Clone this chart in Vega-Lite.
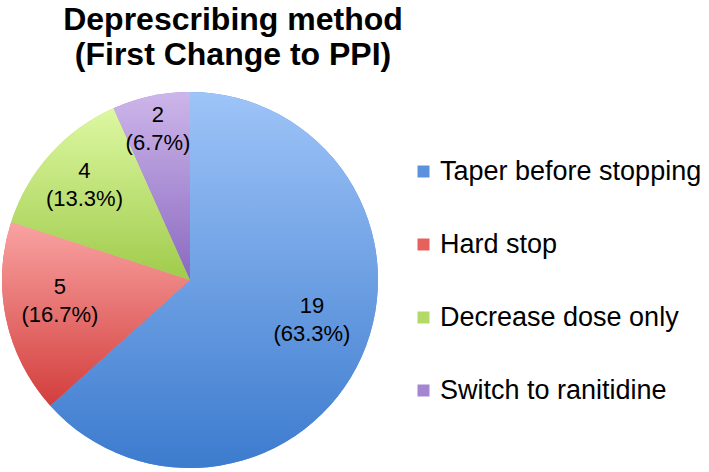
{
  "$schema": "https://vega.github.io/schema/vega-lite/v6.json",
  "width": 376,
  "height": 376,
  "padding": {"left": 2, "top": 4, "right": 0, "bottom": 0},
  "background": "white",
  "title": {
    "text": ["Deprescribing method", " (First Change to PPI)"],
    "font": "Liberation Sans",
    "fontSize": 32,
    "fontWeight": "bold",
    "lineHeight": 35,
    "color": "black",
    "anchor": "middle",
    "dx": 43,
    "offset": 20
  },
  "data": {
    "values": [
      {"method": "Taper before stopping", "count": 19, "pct": "(63.3%)", "order": 1},
      {"method": "Hard stop", "count": 5, "pct": "(16.7%)", "order": 2},
      {"method": "Decrease dose only", "count": 4, "pct": "(13.3%)", "order": 3},
      {"method": "Switch to ranitidine", "count": 2, "pct": "(6.7%)", "order": 4}
    ]
  },
  "encoding": {
    "theta": {"field": "count", "type": "quantitative", "stack": true},
    "order": {"field": "order", "type": "quantitative", "sort": "ascending"}
  },
  "layer": [
    {
      "mark": {"type": "arc", "stroke": null},
      "encoding": {
        "color": {
          "field": "method",
          "type": "nominal",
          "scale": {
            "domain": ["Taper before stopping", "Hard stop", "Decrease dose only", "Switch to ranitidine"],
            "range": ["#5B92DE", "#E6605E", "#B3D968", "#A485D2"]
          },
          "legend": {
            "title": null,
            "orient": "none",
            "legendX": 408,
            "legendY": 66,
            "symbolType": "square",
            "symbolSize": 144,
            "symbolStrokeWidth": 0,
            "labelFont": "Liberation Sans",
            "labelFontSize": 27,
            "labelColor": "black",
            "labelOffset": 3,
            "rowPadding": 45,
            "labelLimit": 400
          }
        }
      }
    },
    {
      "mark": {"type": "arc", "stroke": null},
      "encoding": {
        "color": {
          "condition": [
            {"test": "datum.order == 1", "value": {"gradient": "linear", "x1": 0, "y1": 0, "x2": 0, "y2": 1, "stops": [{"offset": 0, "color": "#9EC4F8"}, {"offset": 1, "color": "#3C7BCE"}]}},
            {"test": "datum.order == 2", "value": {"gradient": "linear", "x1": 0, "y1": 0, "x2": 0, "y2": 1, "stops": [{"offset": 0, "color": "#F9A3A2"}, {"offset": 1, "color": "#D23E3C"}]}},
            {"test": "datum.order == 3", "value": {"gradient": "linear", "x1": 0, "y1": 0, "x2": 0, "y2": 1, "stops": [{"offset": 0, "color": "#DDF8A2"}, {"offset": 1, "color": "#A0CB4C"}]}}
          ],
          "value": {"gradient": "linear", "x1": 0, "y1": 0, "x2": 0, "y2": 1, "stops": [{"offset": 0, "color": "#CDB6EA"}, {"offset": 1, "color": "#8B69C0"}]}
        }
      }
    },
    {
      "mark": {
        "type": "text",
        "font": "Liberation Sans",
        "fontSize": 22,
        "color": "black",
        "dx": {"expr": "datum.order == 1 ? 5 : 0"},
        "dy": {"expr": "(datum.order == 1 ? -12 : datum.order == 2 ? -7 : 0) - 14"},
        "radius": {"expr": "datum.order == 4 ? 154 : datum.order == 3 ? 142 : datum.order == 2 ? 133 : 128"}
      },
      "encoding": {"text": {"field": "count", "type": "quantitative"}}
    },
    {
      "mark": {
        "type": "text",
        "font": "Liberation Sans",
        "fontSize": 22,
        "color": "black",
        "dx": {"expr": "datum.order == 1 ? 5 : 0"},
        "dy": {"expr": "(datum.order == 1 ? -12 : datum.order == 2 ? -7 : 0) + 14"},
        "radius": {"expr": "datum.order == 4 ? 154 : datum.order == 3 ? 142 : datum.order == 2 ? 133 : 128"}
      },
      "encoding": {"text": {"field": "pct", "type": "nominal"}}
    }
  ]
}
